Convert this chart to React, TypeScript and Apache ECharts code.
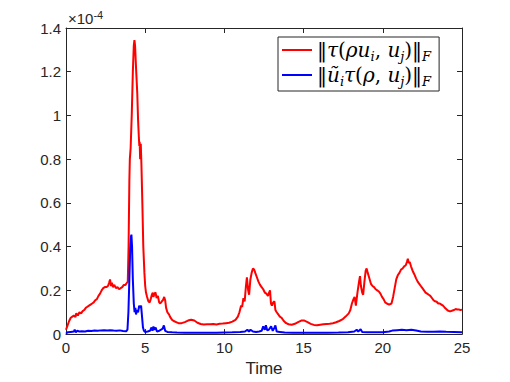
import React, { useEffect, useRef } from "react";
import * as echarts from "echarts";

const seriesNames = ["tauRhoU", "uTauRho"];

const xTicks = [0, 5, 10, 15, 20, 25];
const yTicks = [0, 0.2, 0.4, 0.6, 0.8, 1, 1.2, 1.4];

const redT = [
  0.0, 0.1, 0.2, 0.3, 0.4, 0.5, 0.6, 0.65, 0.75, 0.85, 0.95, 1.05, 1.15, 1.25, 1.35, 1.45, 1.55, 1.65, 1.75, 1.85,
  1.95, 2.05, 2.15, 2.25, 2.35, 2.45, 2.55, 2.65, 2.72, 2.78, 2.84, 2.9, 2.96, 3.05, 3.15, 3.25, 3.35, 3.45, 3.55, 3.65,
  3.75, 3.85, 3.9, 3.95, 4.0, 4.03, 4.08, 4.15, 4.22, 4.28, 4.32, 4.36, 4.42, 4.5, 4.55, 4.6, 4.63, 4.65, 4.68, 4.72,
  4.76, 4.82, 4.88, 4.95, 5.0, 5.05, 5.12, 5.2, 5.28, 5.35, 5.42, 5.48, 5.52, 5.58, 5.65, 5.72, 5.8, 5.88, 5.95, 6.05,
  6.12, 6.2, 6.26, 6.32, 6.4, 6.5, 6.6, 6.7, 6.8, 6.95, 7.1, 7.3, 7.5, 7.7, 7.9, 8.1, 8.3, 8.5, 8.7, 8.9,
  9.1, 9.3, 9.5, 9.7, 9.9, 10.1, 10.3, 10.5, 10.7, 10.85, 10.95, 11.05, 11.12, 11.2, 11.28, 11.36, 11.42, 11.5, 11.56, 11.64,
  11.72, 11.8, 11.88, 11.95, 12.05, 12.15, 12.25, 12.35, 12.45, 12.55, 12.65, 12.75, 12.82, 12.88, 12.94, 13.0, 13.08, 13.16, 13.22, 13.3,
  13.4, 13.5, 13.6, 13.75, 13.9, 14.05, 14.25, 14.45, 14.65, 14.85, 15.05, 15.25, 15.45, 15.65, 15.85, 16.05, 16.25, 16.45, 16.65, 16.85,
  17.05, 17.25, 17.45, 17.65, 17.85, 17.95, 18.05, 18.15, 18.22, 18.3, 18.4, 18.5, 18.56, 18.62, 18.7, 18.76, 18.84, 18.92, 18.98, 19.05,
  19.15, 19.25, 19.35, 19.45, 19.55, 19.65, 19.75, 19.85, 19.95, 20.05, 20.15, 20.25, 20.4, 20.55, 20.65, 20.75, 20.85, 20.95, 21.05, 21.15,
  21.25, 21.35, 21.45, 21.52, 21.58, 21.64, 21.7, 21.78, 21.88, 21.98, 22.1, 22.2, 22.3, 22.4, 22.5, 22.6, 22.7, 22.8, 22.9, 23.0,
  23.1, 23.2, 23.3, 23.4, 23.5, 23.6, 23.7, 23.8, 23.9, 24.0, 24.1, 24.2, 24.3, 24.4, 24.5, 24.6, 24.7, 24.8, 24.9, 25.0,
];
const redV = [
  0.02, 0.04, 0.06, 0.075, 0.08, 0.085, 0.078, 0.095, 0.085, 0.1, 0.095, 0.105, 0.11, 0.12, 0.125, 0.13, 0.135, 0.14, 0.145, 0.155,
  0.16, 0.175, 0.185, 0.2, 0.21, 0.215, 0.215, 0.22, 0.235, 0.25, 0.22, 0.235, 0.215, 0.225, 0.21, 0.215, 0.205, 0.21, 0.215, 0.225,
  0.225, 0.235, 0.24, 0.4, 0.7, 0.8, 0.85, 1.0, 1.2, 1.32, 1.345, 1.32, 1.22, 1.1, 0.98, 0.9, 0.86, 0.88, 0.8, 0.87,
  0.78, 0.6, 0.4, 0.28, 0.22, 0.19, 0.17, 0.15, 0.145, 0.16, 0.18, 0.19, 0.17, 0.185, 0.19, 0.165, 0.175, 0.145, 0.14, 0.15,
  0.155, 0.17, 0.155, 0.12, 0.1, 0.09, 0.075, 0.065, 0.06, 0.055, 0.05, 0.05, 0.055, 0.062, 0.066, 0.062, 0.052, 0.046, 0.044, 0.045,
  0.045, 0.046, 0.044, 0.047, 0.048, 0.05, 0.052, 0.057, 0.065, 0.08, 0.1, 0.13, 0.125, 0.165, 0.15, 0.22, 0.26, 0.2, 0.18, 0.25,
  0.28, 0.3, 0.295, 0.28, 0.26, 0.24, 0.225, 0.215, 0.205, 0.19, 0.185, 0.175, 0.19, 0.2, 0.14, 0.13, 0.145, 0.15, 0.11, 0.1,
  0.09, 0.08, 0.075, 0.06, 0.05, 0.045, 0.043, 0.047, 0.055, 0.062, 0.062, 0.055, 0.047, 0.042, 0.041, 0.043, 0.045, 0.046, 0.047, 0.05,
  0.054, 0.06, 0.067, 0.08, 0.095, 0.11, 0.14, 0.16, 0.17, 0.13, 0.19, 0.24, 0.265, 0.22, 0.19, 0.18, 0.24, 0.29, 0.3, 0.28,
  0.255, 0.23, 0.22, 0.215, 0.205, 0.2, 0.195, 0.185, 0.17, 0.16, 0.145, 0.14, 0.135, 0.14, 0.17, 0.21, 0.25, 0.27, 0.28, 0.295,
  0.3, 0.31, 0.315, 0.33, 0.345, 0.325, 0.33, 0.31, 0.29, 0.275, 0.255, 0.24, 0.23, 0.22, 0.21, 0.2, 0.19, 0.185, 0.18, 0.175,
  0.165, 0.155, 0.15, 0.148, 0.14, 0.14, 0.135, 0.13, 0.122, 0.115, 0.108, 0.105, 0.105, 0.108, 0.11, 0.115, 0.112, 0.113, 0.11, 0.112,
];

const blueT = [
  0.0, 0.1, 0.3, 0.5, 0.55, 0.62, 0.7, 0.85, 1.0, 1.2, 1.4, 1.6, 1.8, 2.0, 2.2, 2.4, 2.6, 2.8, 3.0, 3.2,
  3.4, 3.6, 3.8, 3.88, 3.94, 4.0, 4.05, 4.1, 4.13, 4.17, 4.22, 4.28, 4.33, 4.38, 4.42, 4.48, 4.55, 4.62, 4.68, 4.74,
  4.8, 4.86, 4.92, 5.0, 5.15, 5.3, 5.4, 5.46, 5.52, 5.58, 5.66, 5.74, 5.85, 6.0, 6.1, 6.18, 6.26, 6.4, 6.7, 7.0,
  7.5, 8.0, 8.5, 9.0, 9.5, 10.0, 10.5, 11.0, 11.3, 11.45, 11.55, 11.65, 11.8, 12.0, 12.2, 12.35, 12.45, 12.55, 12.62, 12.7,
  12.8, 12.95, 13.05, 13.15, 13.22, 13.3, 13.5, 13.8, 14.3, 15.0, 15.7, 16.5, 17.2, 17.8, 18.2, 18.35, 18.45, 18.6, 18.7, 19.0,
  19.5, 20.0, 20.4, 20.6, 20.9, 21.2, 21.5, 21.8, 22.1, 22.4, 22.8, 23.2, 23.6, 24.0, 24.5, 25.0,
];
const blueV = [
  0.002, 0.008, 0.01, 0.012, 0.02, 0.008, 0.015, 0.012, 0.013, 0.012, 0.015, 0.014, 0.016, 0.015, 0.017, 0.018, 0.016, 0.018, 0.016, 0.015,
  0.017, 0.014, 0.013, 0.02, 0.1, 0.25, 0.38, 0.445, 0.455, 0.4, 0.25, 0.14, 0.1, 0.12, 0.09, 0.11, 0.1, 0.13, 0.12, 0.13,
  0.08, 0.03, 0.015, 0.01, 0.012, 0.015, 0.03, 0.015, 0.035, 0.02, 0.03, 0.012, 0.014, 0.02, 0.025, 0.04, 0.015, 0.01, 0.008, 0.007,
  0.006, 0.006, 0.006, 0.006, 0.006, 0.007, 0.008, 0.01, 0.012, 0.02, 0.012, 0.02, 0.012, 0.01, 0.012, 0.015, 0.035, 0.02, 0.04, 0.018,
  0.02, 0.035, 0.015, 0.028, 0.04, 0.012, 0.01, 0.007, 0.006, 0.006, 0.006, 0.006, 0.007, 0.009, 0.012, 0.02, 0.012, 0.022, 0.01, 0.008,
  0.008, 0.009, 0.012, 0.016, 0.018, 0.02, 0.018, 0.02, 0.016, 0.012, 0.011, 0.011, 0.012, 0.011, 0.01, 0.009,
];

const AXIS = "#262626";
const SANS = "'Liberation Sans', Arial, Helvetica, sans-serif";
const SERIF = "'DejaVu Serif', 'Liberation Serif', serif";

const legendRich = {
  n: { fontFamily: SERIF, fontSize: 20, fontStyle: "normal", color: "#000", lineHeight: 26 },
  i: { fontFamily: SERIF, fontSize: 20, fontStyle: "italic", color: "#000", lineHeight: 26 },
  s: { fontFamily: SERIF, fontSize: 13, fontStyle: "italic", color: "#000", lineHeight: 14, verticalAlign: "bottom" },
};

const legendLabels: Record<string, string> = {
  tauRhoU: "{n|‖}{i|τ}{n|(}{i|ρu}{s|i}{n|, }{i|u}{s|j}{n|)‖}{s|F}",
  uTauRho: "{n|‖}{i|ũ}{s|i}{i|τ}{n|(}{i|ρ}{n|, }{i|u}{s|j}{n|)‖}{s|F}",
};

export default function App() {
  const ref = useRef<HTMLDivElement>(null);
  useEffect(() => {
    if (!ref.current) return;
    const chart = echarts.init(ref.current, null, { renderer: "svg" });
    const red = redT.map((t, k) => [t, redV[k]]);
    const blue = blueT.map((t, k) => [t, blueV[k]]);
    const xCommon = {
      type: "value" as const,
      min: xTicks[0],
      max: xTicks[xTicks.length - 1],
      interval: 5,
      splitLine: { show: false },
      axisLine: { show: true, onZero: false, lineStyle: { color: AXIS, width: 1 } },
      axisTick: { show: true, inside: true, length: 5, lineStyle: { color: AXIS } },
    };
    const yCommon = {
      type: "value" as const,
      min: yTicks[0],
      max: yTicks[yTicks.length - 1],
      interval: 0.2,
      splitLine: { show: false },
      axisLine: { show: true, onZero: false, lineStyle: { color: AXIS, width: 1 } },
      axisTick: { show: true, inside: true, length: 5, lineStyle: { color: AXIS } },
    };
    chart.setOption({
      animation: false,
      backgroundColor: "#fff",
      grid: { left: 66, right: 48, top: 28, bottom: 42, containLabel: false },
      xAxis: [
        {
          ...xCommon,
          position: "bottom",
          name: "Time",
          nameLocation: "middle",
          nameGap: 21,
          nameTextStyle: { fontFamily: SANS, fontSize: 17, color: AXIS },
          axisLabel: { fontFamily: SANS, fontSize: 15, color: AXIS, margin: 6 },
        },
        { ...xCommon, position: "top", axisLabel: { show: false } },
      ],
      yAxis: [
        {
          ...yCommon,
          position: "left",
          axisLabel: { fontFamily: SANS, fontSize: 15, color: AXIS, margin: 5 },
        },
        { ...yCommon, position: "right", axisLabel: { show: false } },
      ],
      legend: {
        left: 278,
        top: 37,
        orient: "vertical",
        data: seriesNames,
        icon: "rect",
        itemWidth: 30,
        itemHeight: 2,
        itemGap: 2,
        padding: [3, 8, 3, 4],
        backgroundColor: "#fff",
        borderColor: AXIS,
        borderWidth: 1,
        borderRadius: 0,
        formatter: (name: string) => legendLabels[name],
        textStyle: { fontFamily: SERIF, fontSize: 20, color: "#000", rich: legendRich },
      },
      graphic: [
        {
          type: "text",
          left: 68,
          top: 9,
          style: {
            text: "×10{sup|-4}",
            fontFamily: SANS,
            fontSize: 15,
            fill: AXIS,
            rich: { sup: { fontFamily: SANS, fontSize: 11, fill: AXIS, verticalAlign: "top", padding: [0, 0, 8, 0] } },
          },
        },
      ],
      series: [
        {
          name: seriesNames[0],
          type: "line",
          data: red,
          showSymbol: false,
          symbol: "none",
          lineStyle: { color: "#ff0000", width: 2 },
          itemStyle: { color: "#ff0000" },
          xAxisIndex: 0,
          yAxisIndex: 0,
          z: 3,
        },
        {
          name: seriesNames[1],
          type: "line",
          data: blue,
          showSymbol: false,
          symbol: "none",
          lineStyle: { color: "#0000ff", width: 2 },
          itemStyle: { color: "#0000ff" },
          xAxisIndex: 0,
          yAxisIndex: 0,
          z: 4,
        },
      ],
    });
    return () => chart.dispose();
  }, []);
  return <div ref={ref} style={{ position: "fixed", left: 0, top: 0, width: 510, height: 382 }} />;
}
